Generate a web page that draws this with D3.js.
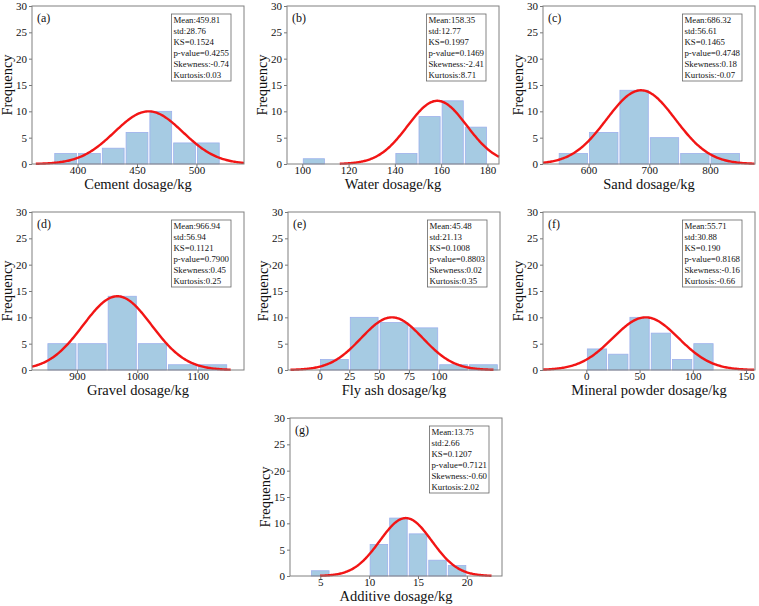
<!DOCTYPE html>
<html>
<head>
<meta charset="utf-8">
<script src="https://cdn.jsdelivr.net/npm/d3@7"></script>
<style>
body { margin: 0; background: #fff; }
svg { display: block; }
text { font-family: "Liberation Serif", "Times New Roman", serif; fill: #111; }
</style>
</head>
<body>
<div id="chart"></div>
<script>
var W = 759, H = 606;
var PW = 212, PH = 158;

// (a) cement
var cementBins = [380, 400, 420, 440, 460, 480, 500, 520];
var cementCounts = [2, 2, 3, 6, 10, 4, 4];
var cementTicks = [400, 450, 500];
var cementRange = [361.7, 540];
var cementFit = [459.81, 28.76, 10];   // centre, spread, peak height
var cementStats = ["Mean:459.81", "std:28.76", "KS=0.1524", "p-value=0.4255", "Skewness:-0.74", "Kurtosis:0.03"];

// (b) water
var waterBins = [100, 110, 120, 130, 140, 150, 160, 170, 180];
var waterCounts = [1, 0, 0, 0, 2, 9, 12, 7];
var waterTicks = [100, 120, 140, 160, 180];
var waterRange = [93.4, 185];
var waterFit = [158.35, 12.77, 12];
var waterStats = ["Mean:158.35", "std:12.77", "KS=0.1997", "p-value=0.1469", "Skewness:-2.41", "Kurtosis:8.71"];

// (c) sand
var sandBins = [550, 600, 650, 700, 750, 800, 850];
var sandCounts = [2, 6, 14, 5, 2, 2];
var sandTicks = [600, 700, 800];
var sandRange = [525, 874];
var sandFit = [686.32, 56.61, 14];
var sandStats = ["Mean:686.32", "std:56.61", "KS=0.1465", "p-value=0.4748", "Skewness:0.18", "Kurtosis:-0.07"];

// (d) gravel
var gravelBins = [850, 900, 950, 1000, 1050, 1100, 1150];
var gravelCounts = [5, 5, 14, 5, 1, 1];
var gravelTicks = [900, 1000, 1100];
var gravelRange = [825.3, 1177];
var gravelFit = [966.94, 56.94, 14];
var gravelStats = ["Mean:966.94", "std:56.94", "KS=0.1121", "p-value=0.7900", "Skewness:0.45", "Kurtosis:0.25"];

// (e) fly ash
var flyBins = [0, 25, 50, 75, 100, 125, 150];
var flyCounts = [2, 10, 9, 8, 1, 1];
var flyTicks = [0, 25, 50, 75, 100];
var flyRange = [-26.4, 151.4];
var flyFit = [60.8, 25.8, 10];
var flyStats = ["Mean:45.48", "std:21.13", "KS=0.1008", "p-value=0.8803", "Skewness:0.02", "Kurtosis:0.35"];

// (f) mineral powder
var mineralBins = [0, 20, 40, 60, 80, 100, 120];
var mineralCounts = [4, 3, 10, 7, 2, 5];
var mineralTicks = [0, 50, 100, 150];
var mineralRange = [-40.7, 158.4];
var mineralFit = [55.71, 30.88, 10];
var mineralStats = ["Mean:55.71", "std:30.88", "KS=0.190", "p-value=0.8168", "Skewness:-0.16", "Kurtosis:-0.66"];

// (g) additive
var additiveBins = [4, 6, 8, 10, 12, 14, 16, 18, 20];
var additiveCounts = [1, 0, 0, 6, 11, 8, 3, 2];
var additiveTicks = [5, 10, 15, 20];
var additiveRange = [1.9, 23.6];
var additiveFit = [13.75, 2.66, 11];
var additiveStats = ["Mean:13.75", "std:2.66", "KS=0.1207", "p-value=0.7121", "Skewness:-0.60", "Kurtosis:2.02"];

var freqTicks = [0, 5, 10, 15, 20, 25, 30];

var panels = [
    {tag: "(a)", label: "Cement dosage/kg", bins: cementBins, counts: cementCounts, ticks: cementTicks, range: cementRange, fit: cementFit, stats: cementStats},
    {tag: "(b)", label: "Water dosage/kg", bins: waterBins, counts: waterCounts, ticks: waterTicks, range: waterRange, fit: waterFit, stats: waterStats},
    {tag: "(c)", label: "Sand dosage/kg", bins: sandBins, counts: sandCounts, ticks: sandTicks, range: sandRange, fit: sandFit, stats: sandStats},
    {tag: "(d)", label: "Gravel dosage/kg", bins: gravelBins, counts: gravelCounts, ticks: gravelTicks, range: gravelRange, fit: gravelFit, stats: gravelStats},
    {tag: "(e)", label: "Fly ash dosage/kg", bins: flyBins, counts: flyCounts, ticks: flyTicks, range: flyRange, fit: flyFit, stats: flyStats},
    {tag: "(f)", label: "Mineral powder dosage/kg", bins: mineralBins, counts: mineralCounts, ticks: mineralTicks, range: mineralRange, fit: mineralFit, stats: mineralStats},
    {tag: "(g)", label: "Additive dosage/kg", bins: additiveBins, counts: additiveCounts, ticks: additiveTicks, range: additiveRange, fit: additiveFit, stats: additiveStats}
];

// top-left corner of each plot frame, and x-title offset below it
var origins = [[32, 6], [287, 6], [543, 6], [32, 212], [288, 212], [543, 212], [290, 418]];
var titleDrop = [25, 25, 25, 25, 25, 25, 24.5];

var svg = d3.select('#chart').append('svg')
    .attr('width', W)
    .attr('height', H);
svg.append('rect').attr('width', W).attr('height', H).attr('fill', '#fff');

function drawPanel(p, origin, drop) {
    var g = svg.append('g')
        .attr('transform', 'translate(' + origin[0] + ',' + origin[1] + ')');

    var x = d3.scaleLinear().domain(p.range).range([0, PW]);
    var y = d3.scaleLinear().domain([0, 30]).range([PH, 0]);

    var bars = p.counts.map(function(c, i) {
        return {x0: p.bins[i], x1: p.bins[i + 1], n: c};
    }).filter(function(b) { return b.n > 0; });

    g.selectAll('.bar')
        .data(bars).enter()
        .append('rect')
        .attr('class', 'bar')
        .attr('x', function(b) { return x(b.x0) + 1; })
        .attr('width', function(b) { return x(b.x1) - x(b.x0) - 2; })
        .attr('y', function(b) { return y(b.n); })
        .attr('height', function(b) { return y(0) - y(b.n); })
        .attr('fill', '#a6cbe3')
        .attr('stroke', '#9db0ec')
        .attr('stroke-width', 0.8);

    // normal fit curve
    var mu = p.fit[0], sd = p.fit[1], peak = p.fit[2];
    var lo = Math.max(p.range[0], mu - 3.3 * sd);
    var hi = Math.min(p.range[1], mu + 3.3 * sd);
    var pts = d3.range(0, 201).map(function(i) {
        var v = lo + (hi - lo) * i / 200;
        var z = (v - mu) / sd;
        return [v, peak * Math.exp(-0.5 * z * z)];
    });
    g.append('path')
        .datum(pts)
        .attr('fill', 'none')
        .attr('stroke', '#f21515')
        .attr('stroke-width', 2.4)
        .attr('d', d3.line()
            .x(function(d) { return x(d[0]); })
            .y(function(d) { return y(d[1]); }));

    // axes
    var xa = g.append('g')
        .attr('transform', 'translate(0,' + PH + ')')
        .call(d3.axisBottom(x).tickValues(p.ticks).tickFormat(d3.format('d'))
            .tickSize(3).tickSizeOuter(0).tickPadding(0));
    var ya = g.append('g')
        .call(d3.axisLeft(y).tickValues(freqTicks).tickSize(3).tickSizeOuter(0).tickPadding(2));
    [xa, ya].forEach(function(a) {
        a.select('.domain').remove();
        a.selectAll('line').attr('stroke', '#777');
        a.selectAll('text')
            .attr('font-size', '11px')
            .attr('font-family', '"Liberation Serif", serif')
            .attr('fill', '#111');
    });
    xa.selectAll('text').attr('dy', '0.66em');

    g.append('rect')
        .attr('width', PW)
        .attr('height', PH)
        .attr('fill', 'none')
        .attr('stroke', '#808080')
        .attr('stroke-width', 1);

    g.append('text')
        .attr('x', 5)
        .attr('y', 16)
        .attr('font-size', '12px')
        .text(p.tag);

    g.append('text')
        .attr('x', PW / 2)
        .attr('y', PH + drop)
        .attr('text-anchor', 'middle')
        .attr('font-size', '14.5px')
        .text(p.label);

    g.append('text')
        .attr('transform', 'translate(-20,' + (PH / 2) + ') rotate(-90)')
        .attr('text-anchor', 'middle')
        .attr('font-size', '14.5px')
        .text('Frequency');

    // stats box
    var box = g.append('g');
    var lines = box.selectAll('text')
        .data(p.stats).enter()
        .append('text')
        .attr('x', 2)
        .attr('y', function(s, i) { return 9 + i * 10.9; })
        .attr('font-size', '8.8px')
        .text(function(s) { return s; });
    var bw = 0;
    lines.each(function() { bw = Math.max(bw, this.getComputedTextLength()); });
    bw += 4;
    box.insert('rect', 'text')
        .attr('width', bw)
        .attr('height', 67)
        .attr('fill', '#fff')
        .attr('stroke', '#666')
        .attr('stroke-width', 0.8);
    box.attr('transform', 'translate(' + (PW - 13 - bw) + ',8)');
}

panels.forEach(function(p, i) {
    drawPanel(p, origins[i], titleDrop[i]);
});
</script>
</body>
</html>
